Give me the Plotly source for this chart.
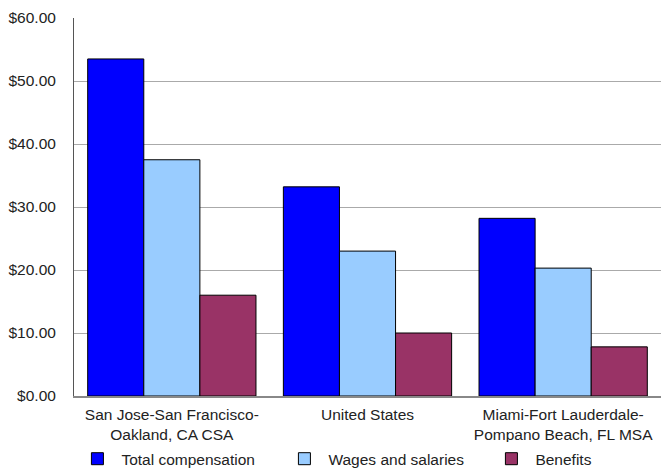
import plotly.graph_objects as go

categories = ["San Jose-San Francisco-<br>Oakland, CA CSA", "United States", "Miami-Fort Lauderdale-<br>Pompano Beach, FL MSA"]
total_comp = [53.5, 33.2, 28.2]
wages = [37.5, 23.0, 20.3]
benefits = [16.0, 10.0, 7.8]
tick_vals = [0, 10, 20, 30, 40, 50, 60]
tick_text = ["$0.00", "$10.00", "$20.00", "$30.00", "$40.00", "$50.00", "$60.00"]

font = dict(family="Liberation Sans, Arial, sans-serif", size=15.5, color="#222222")

fig = go.Figure()
for name, vals, color in [
    ("Total compensation", total_comp, "#0000FF"),
    ("Wages and salaries", wages, "#99CCFF"),
    ("Benefits", benefits, "#993366"),
]:
    fig.add_trace(go.Bar(
        x=categories, y=vals, name=name,
        marker=dict(color=color, line=dict(color="#000000", width=1)),
    ))

fig.update_layout(
    width=662, height=468,
    margin=dict(l=74, r=1, t=18, b=72, autoexpand=False),
    paper_bgcolor="white", plot_bgcolor="white",
    font=font,
    barmode="group", bargap=0.14, bargroupgap=0,
    showlegend=True,
    legend=dict(orientation="h", x=-0.001, xanchor="left", y=-0.122, yanchor="top",
                itemwidth=38, entrywidth=154, traceorder="normal",
                font=font, itemclick=False, itemdoubleclick=False),
    xaxis=dict(showline=True, linecolor="#888888", linewidth=2, ticks="",
               tickfont=font, mirror=False, ticklabelstandoff=3),
    yaxis=dict(range=[0, 60], tickvals=tick_vals, ticktext=tick_text,
               showgrid=True, gridcolor="#AAAAAA", gridwidth=1,
               showline=True, linecolor="#555555", linewidth=1,
               zeroline=False, tickfont=font, ticks="", ticklabelstandoff=14),
)
fig.write_html("out.html", config={"displayModeBar": False},
               post_script="document.body.style.margin='0px';")
